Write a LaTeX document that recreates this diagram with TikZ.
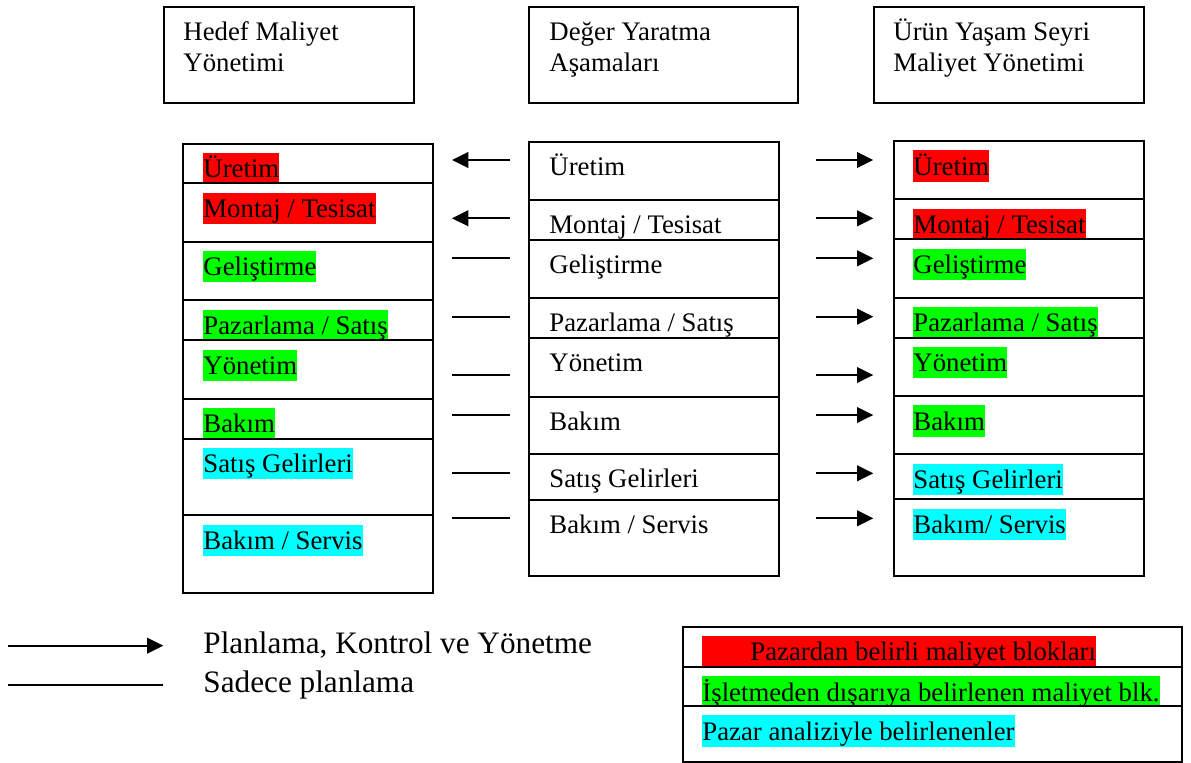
\documentclass[tikz,border=0pt]{standalone}
\usepackage{fontspec}
\setmainfont{Liberation Serif}
\usetikzlibrary{arrows.meta}
\newcommand\pxu{0.4484pt}
\definecolor{hlred}{RGB}{255,0,0}
\definecolor{hlgreen}{RGB}{0,255,0}
\definecolor{hlcyan}{RGB}{0,255,255}
\tikzset{
  boxn/.style={draw=black, line width=0.9pt, fill=white, inner sep=0pt, anchor=north west, minimum width={#1*\pxu}},
  hl/.style={fill=#1, inner sep=0pt, text height=11pt, text depth=3pt, anchor=base west, font=\fontsize{12}{13.9}\selectfont},
  plain/.style={inner sep=0pt, anchor=base west, font=\fontsize{12}{13.9}\selectfont},
  head/.style={inner sep=0pt, anchor=base west, align=left, font=\fontsize{12}{13.9}\selectfont},
  big/.style={inner sep=0pt, anchor=base west, font=\fontsize{14}{16}\selectfont},
  arr/.style={line width=0.9pt, -{Triangle[length=7.3pt,width=7pt]}},
  ln/.style={line width=0.9pt}
}
\begin{document}
\begin{tikzpicture}[x=0.4484pt, y=-0.4484pt]
\useasboundingbox[fill=white] (0,0) rectangle (1191,762);

% header boxes
\node[boxn=250, minimum height={96*\pxu}] (H1) at (163,5.7) {};
\node[head] (H1t) at (183,71) {Hedef Maliyet\\Yönetimi};
\node[boxn=269, minimum height={96*\pxu}] (H2) at (528,5.7) {};
\node[head] (H2t) at (549,71) {Değer Yaratma\\Aşamaları};
\node[boxn=270, minimum height={96*\pxu}] (H3) at (873,5.7) {};
\node[head] (H3t) at (893,71) {Ürün Yaşam Seyri\\Maliyet Yönetimi};

% left column
\node[boxn=250.4, minimum height={58*\pxu}] (L1) at (182,142.7) {};
\node[hl=hlred] (L1t) at (203,177.7) {Üretim};
\node[boxn=250.4, minimum height={58.4*\pxu}] (L2) at (182,182.3) {};
\node[hl=hlred] (L2t) at (203,217.3) {Montaj / Tesisat};
\node[boxn=250.4, minimum height={58.6*\pxu}] (L3) at (182,240.7) {};
\node[hl=hlgreen] (L3t) at (203,275.7) {Geliştirme};
\node[boxn=250.4, minimum height={58*\pxu}] (L4) at (182,299.3) {};
\node[hl=hlgreen] (L4t) at (203,334.3) {Pazarlama / Satış};
\node[boxn=250.4, minimum height={58.4*\pxu}] (L5) at (182,339.3) {};
\node[hl=hlgreen] (L5t) at (203,374.3) {Yönetim};
\node[boxn=250.4, minimum height={58*\pxu}] (L6) at (182,397.7) {};
\node[hl=hlgreen] (L6t) at (203,432.7) {Bakım};
\node[boxn=250.4, minimum height={76.6*\pxu}] (L7) at (182,437.7) {};
\node[hl=hlcyan] (L7t) at (203,472.7) {Satış Gelirleri};
\node[boxn=250.4, minimum height={77.4*\pxu}] (L8) at (182,514.3) {};
\node[hl=hlcyan] (L8t) at (203,549.3) {Bakım / Servis};

% middle column
\node[boxn=249.7, minimum height={58.3*\pxu}] (M1) at (528,140.7) {};
\node[plain] (M1t) at (549,175.2) {Üretim};
\node[boxn=249.7, minimum height={58*\pxu}] (M2) at (528,199) {};
\node[plain] (M2t) at (549,233.5) {Montaj / Tesisat};
\node[boxn=249.7, minimum height={57.7*\pxu}] (M3) at (528,239) {};
\node[plain] (M3t) at (549,273.5) {Geliştirme};
\node[boxn=249.7, minimum height={58*\pxu}] (M4) at (528,296.7) {};
\node[plain] (M4t) at (549,331.2) {Pazarlama / Satış};
\node[boxn=249.7, minimum height={59*\pxu}] (M5) at (528,336.7) {};
\node[plain] (M5t) at (549,371.2) {Yönetim};
\node[boxn=249.7, minimum height={57.6*\pxu}] (M6) at (528,395.7) {};
\node[plain] (M6t) at (549,430.2) {Bakım};
\node[boxn=249.7, minimum height={58*\pxu}] (M7) at (528,453.3) {};
\node[plain] (M7t) at (549,487.8) {Satış Gelirleri};
\node[boxn=249.7, minimum height={76*\pxu}] (M8) at (528,499) {};
\node[plain] (M8t) at (549,533.5) {Bakım / Servis};

% right column
\node[boxn=249.4, minimum height={58.3*\pxu}] (R1) at (893.3,140) {};
\node[hl=hlred] (R1t) at (913,175) {Üretim};
\node[boxn=249.4, minimum height={58*\pxu}] (R2) at (893.3,198.3) {};
\node[hl=hlred] (R2t) at (913,233.3) {Montaj / Tesisat};
\node[boxn=249.4, minimum height={58.4*\pxu}] (R3) at (893.3,238.3) {};
\node[hl=hlgreen] (R3t) at (913,273.3) {Geliştirme};
\node[boxn=249.4, minimum height={58*\pxu}] (R4) at (893.3,296.7) {};
\node[hl=hlgreen] (R4t) at (913,331.7) {Pazarlama / Satış};
\node[boxn=249.4, minimum height={58.3*\pxu}] (R5) at (893.3,336.7) {};
\node[hl=hlgreen] (R5t) at (913,371.7) {Yönetim};
\node[boxn=249.4, minimum height={58.3*\pxu}] (R6) at (893.3,395) {};
\node[hl=hlgreen] (R6t) at (913,430) {Bakım};
\node[boxn=249.4, minimum height={58*\pxu}] (R7) at (893.3,453.3) {};
\node[hl=hlcyan] (R7t) at (913,488.3) {Satış Gelirleri};
\node[boxn=249.4, minimum height={76.7*\pxu}] (R8) at (893.3,498.3) {};
\node[hl=hlcyan] (R8t) at (913,533.3) {Bakım/ Servis};

% left connectors
\foreach \i/\yy in {1/160,2/218.3} {
  \coordinate (la\i) at (510,\yy);
  \coordinate (lb\i) at (452,\yy);
  \draw[arr] (la\i) -- (lb\i);
}
\foreach \i/\yy in {3/257.7,4/316.7,5/375,6/415,7/473.3,8/518.3} {
  \coordinate (la\i) at (510,\yy);
  \coordinate (lb\i) at (452,\yy);
  \draw[ln] (la\i) -- (lb\i);
}
% right connectors
\foreach \i/\yy in {1/160,2/218.3,3/258.3,4/316.7,5/375,6/415,7/473.3,8/518.3} {
  \coordinate (ra\i) at (816,\yy);
  \coordinate (rb\i) at (873.3,\yy);
  \draw[arr] (ra\i) -- (rb\i);
}

% legend lines
\coordinate (ka) at (8.3,645.7);
\coordinate (kb) at (163.3,645.7);
\draw[arr] (ka) -- (kb);
\coordinate (kc) at (8.3,685);
\coordinate (kd) at (163.3,685);
\draw[ln] (kc) -- (kd);
\node[big] (k1) at (203,653) {Planlama, Kontrol ve Yönetme};
\node[big] (k2) at (203,692) {Sadece planlama};

% legend box
\node[boxn=499.3, minimum height={58*\pxu}] (G1) at (681.7,625.7) {};
\node[hl=hlred] (G1t) at (702,660.7) {\hspace*{21.5pt}Pazardan belirli maliyet blokları};
\node[boxn=499.3, minimum height={58*\pxu}] (G2) at (681.7,666) {};
\node[hl=hlgreen] (G2t) at (702,701) {İşletmeden dışarıya belirlenen maliyet blk.};
\node[boxn=499.3, minimum height={55.5*\pxu}] (G3) at (681.7,705) {};
\node[hl=hlcyan] (G3t) at (702,740) {Pazar analiziyle belirlenenler};
\end{tikzpicture}
\end{document}
